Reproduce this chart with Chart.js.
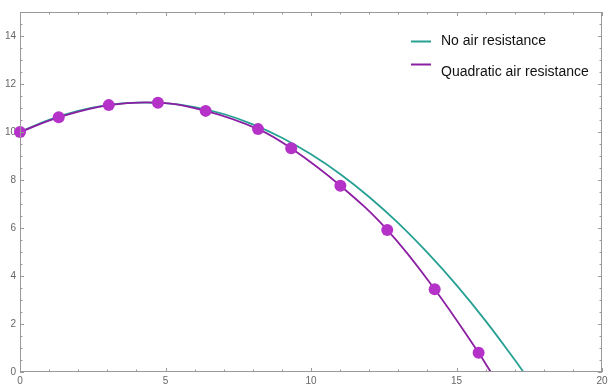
<!DOCTYPE html>
<html>
<head>
<meta charset="utf-8">
<script src="https://cdn.jsdelivr.net/npm/chart.js@4.4.0/dist/chart.umd.min.js"></script>
<style>
  html, body { margin: 0; padding: 0; background: #fff; }
  canvas { display: block; }
</style>
</head>
<body>
<canvas id="trajectory" width="608" height="385"></canvas>
<script>
// Trajectory without air resistance
const noAirX = [0, 1, 2, 3, 4, 5, 6, 7, 8, 9, 10, 11, 12, 13, 14, 15, 16, 17, 17.3];
const noAirY = [10.0, 10.51, 10.88, 11.12, 11.22, 11.20, 11.04, 10.75, 10.32, 9.76, 9.07, 8.25, 7.29, 6.20, 4.97, 3.62, 2.13, 0.51, 0];

// Trajectory with quadratic drag (sample dots)
const dragX = [0, 1.33, 3.05, 4.74, 6.38, 8.18, 9.32, 11.01, 12.62, 14.25, 15.76];
const dragY = [10.0, 10.61, 11.12, 11.22, 10.88, 10.12, 9.32, 7.76, 5.92, 3.45, 0.80];
// where the drag curve meets the ground
const dragLandX = 16.18;
const dragLandY = 0;

const seriesNames = ['No air resistance', 'Quadratic air resistance'];
const xTicks = [0, 5, 10, 15, 20];
const yTicks = [0, 2, 4, 6, 8, 10, 12, 14];

const tealColor = '#27a093';
const purpleColor = '#8c1ea3';
const dotColor = '#b532c9';
const frameColor = '#9a9a9a';

function toPoints(xs, ys) {
    return xs.map((x, i) => ({ x: x, y: ys[i] }));
}

// Mathematica-style frame with inward ticks on all four sides
const framePlugin = {
    id: 'frame',
    afterDatasetsDraw(chart) {
        const ctx = chart.ctx;
        const area = chart.chartArea;
        const xs = chart.scales.x;
        const ys = chart.scales.y;
        ctx.save();
        ctx.strokeStyle = frameColor;
        ctx.lineWidth = 1;
        ctx.strokeRect(area.left + 0.5, area.top + 0.5, area.right - area.left - 1, area.bottom - area.top - 1);

        ctx.beginPath();
        for (let v = 0; v <= 20; v += 1) {
            const len = (v % 5 === 0) ? 4 : 2.5;
            const px = Math.round(xs.getPixelForValue(v)) + 0.5;
            ctx.moveTo(px, area.bottom);
            ctx.lineTo(px, area.bottom - len);
            ctx.moveTo(px, area.top);
            ctx.lineTo(px, area.top + len);
        }
        for (let v = 0; v <= 15; v += 0.5) {
            const len = (v % 2 === 0) ? 4 : 2.5;
            const py = Math.round(ys.getPixelForValue(v)) + 0.5;
            ctx.moveTo(area.left, py);
            ctx.lineTo(area.left + len, py);
            ctx.moveTo(area.right, py);
            ctx.lineTo(area.right - len, py);
        }
        ctx.stroke();
        ctx.restore();
    }
};

// legend sits inside the plot, top right
const legendPlugin = {
    id: 'insideLegend',
    afterDraw(chart) {
        const ctx = chart.ctx;
        const colors = [tealColor, purpleColor];
        const lineY = [41.5, 64.5];
        const textY = [41, 72];
        ctx.save();
        ctx.font = '14px "Liberation Sans", Arial, sans-serif';
        ctx.textBaseline = 'middle';
        ctx.fillStyle = '#111';
        seriesNames.forEach((name, i) => {
            ctx.strokeStyle = colors[i];
            ctx.lineWidth = 2;
            ctx.beginPath();
            ctx.moveTo(411, lineY[i]);
            ctx.lineTo(431, lineY[i]);
            ctx.stroke();
            ctx.fillText(name, 441, textY[i]);
        });
        ctx.restore();
    }
};

const ctx = document.getElementById('trajectory').getContext('2d');
const chart = new Chart(ctx, {
    type: 'scatter',
    data: {
        datasets: [
            {
                label: seriesNames[0],
                data: toPoints(noAirX, noAirY),
                showLine: true,
                borderColor: tealColor,
                borderWidth: 1.8,
                pointRadius: 0,
                tension: 0.4,
                order: 3
            },
            {
                label: seriesNames[1],
                data: toPoints(dragX.concat([dragLandX]), dragY.concat([dragLandY])),
                showLine: true,
                borderColor: purpleColor,
                borderWidth: 1.8,
                pointRadius: 0,
                tension: 0.4,
                order: 2
            },
            {
                label: 'samples',
                data: toPoints(dragX, dragY),
                showLine: false,
                backgroundColor: dotColor,
                borderWidth: 0,
                pointRadius: 6,
                clip: false,
                order: 1
            }
        ]
    },
    options: {
        responsive: false,
        animation: false,
        layout: {
            padding: { top: 12, right: 3, left: 0, bottom: 0 }
        },
        scales: {
            x: {
                type: 'linear',
                min: 0,
                max: 20,
                grid: { display: false, drawTicks: false },
                border: { display: false },
                afterBuildTicks: scale => {
                    scale.ticks = xTicks.map(v => ({ value: v }));
                },
                ticks: {
                    padding: 3,
                    color: '#666',
                    font: { size: 10, family: '"Liberation Sans", Arial, sans-serif' },
                    maxRotation: 0,
                    autoSkip: false
                },
                afterFit: scale => {
                    scale.height = 13;
                    scale.paddingLeft = 0;
                    scale.paddingRight = 0;
                }
            },
            y: {
                type: 'linear',
                min: 0,
                max: 15,
                grid: { display: false, drawTicks: false },
                border: { display: false },
                afterBuildTicks: scale => {
                    scale.ticks = yTicks.map(v => ({ value: v }));
                },
                ticks: {
                    padding: 4,
                    color: '#666',
                    font: { size: 10, family: '"Liberation Sans", Arial, sans-serif' },
                    autoSkip: false
                },
                afterFit: scale => {
                    scale.width = 20;
                    scale.paddingTop = 0;
                    scale.paddingBottom = 0;
                }
            }
        },
        plugins: {
            legend: { display: false },
            tooltip: { enabled: false }
        }
    },
    plugins: [framePlugin, legendPlugin]
});
</script>
</body>
</html>
